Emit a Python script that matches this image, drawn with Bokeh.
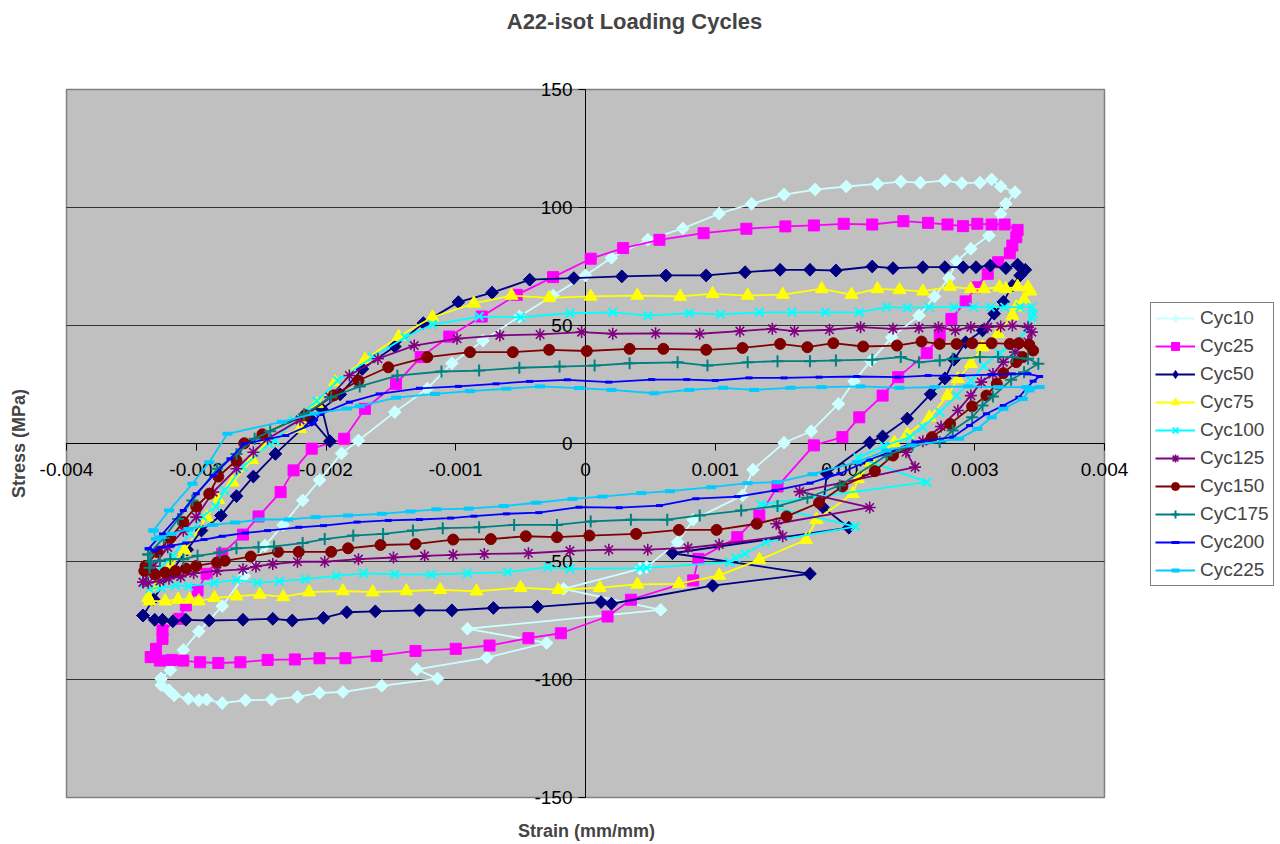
import numpy as np
from bokeh.plotting import figure
from bokeh.models import (LinearAxis, FixedTicker, Legend, LegendItem, Label,
                          Range1d, CustomJSTickFormatter)
from bokeh.embed import file_html
from bokeh.resources import INLINE

FONT = "Liberation Sans"

# ---------------- axis ticks ----------------
x_ticks = [-0.004, -0.003, -0.002, -0.001, 0.0, 0.001, 0.002, 0.003, 0.004]
x_tick_labels = ["-0.004", "-0.003", "-0.002", "-0.001", "0", "0.001", "0.002", "0.003", "0.004"]
y_ticks = [-150, -100, -50, 0, 50, 100, 150]
y_tick_labels = ["-150", "-100", "-50", "0", "50", "100", "150"]

# ---------------- series (strain in 1e-3 mm/mm, stress in MPa) ----------------
series_names = ["Cyc10", "Cyc25", "Cyc50", "Cyc75", "Cyc100",
                "Cyc125", "Cyc150", "CyC175", "Cyc200", "Cyc225"]
series_colors = ["#CCFFFF", "#FF00FF", "#000080", "#FFFF00", "#00FFFF",
                 "#800080", "#800000", "#008080", "#0000FF", "#00CCFF"]

cyc10 = [(-3.27, -99.6), (-3.20, -96.0), (-3.10, -87.5), (-2.98, -79.6), (-2.80, -68.9), (-2.63, -56.1),
         (-2.47, -43.3), (-2.33, -34.5), (-2.18, -24.1), (-2.05, -15.5), (-1.88, -4.2), (-1.75, 1.3),
         (-1.47, 13.3), (-1.22, 23.2), (-1.03, 34.0), (-0.79, 43.6), (-0.51, 53.8), (-0.25, 62.7),
         (0.00, 71.2), (0.20, 78.7), (0.48, 86.4), (0.75, 91.1), (1.03, 97.4), (1.28, 101.6),
         (1.53, 105.5), (1.77, 107.6), (2.01, 108.9), (2.25, 110.0), (2.43, 111.0), (2.58, 110.5),
         (2.77, 111.4), (2.90, 110.3), (3.04, 110.5), (3.13, 111.9), (3.20, 108.9), (3.31, 106.5),
         (3.24, 101.6), (3.20, 97.3), (3.11, 88.1), (2.97, 82.5), (2.86, 77.2), (2.80, 70.0),
         (2.69, 62.3), (2.57, 54.2), (2.36, 45.0), (2.20, 35.0), (2.07, 26.4), (1.95, 16.8),
         (1.74, 5.2), (1.53, 0.3), (1.29, -11.1), (1.21, -22.0), (0.83, -32.3), (0.71, -41.8),
         (0.47, -52.4), (0.42, -53.1), (-0.17, -61.6), (0.58, -70.5), (-0.91, -78.5), (-0.30, -84.5),
         (-0.76, -90.7), (-1.30, -95.7), (-1.14, -99.6), (-1.57, -102.7), (-1.87, -105.3), (-2.05, -105.7),
         (-2.22, -107.4), (-2.42, -108.5), (-2.62, -108.8), (-2.80, -110.0), (-2.92, -108.5), (-2.98, -108.8),
         (-3.06, -108.1), (-3.17, -106.7), (-3.21, -104.6), (-3.27, -102.4), (-3.27, -99.6)]

cyc25 = [(-3.35, -90.5), (-3.31, -87.0), (-3.26, -82.8), (-3.26, -79.2), (-3.13, -74.3), (-3.08, -68.6),
         (-2.99, -62.3), (-2.92, -55.2), (-2.80, -46.7), (-2.64, -38.6), (-2.52, -30.9), (-2.35, -20.6),
         (-2.25, -11.4), (-2.11, -2.2), (-1.86, 2.0), (-1.70, 14.7), (-1.46, 25.3), (-1.27, 36.6),
         (-1.05, 45.3), (-0.80, 53.8), (-0.53, 63.0), (-0.25, 70.5), (0.04, 78.3), (0.29, 82.8),
         (0.57, 86.3), (0.91, 89.1), (1.24, 91.0), (1.54, 92.0), (1.76, 92.4), (1.99, 93.1),
         (2.21, 92.8), (2.45, 94.2), (2.64, 93.5), (2.79, 92.8), (2.91, 92.1), (3.02, 93.1),
         (3.13, 92.8), (3.23, 92.8), (3.33, 90.5), (3.32, 87.4), (3.29, 83.9), (3.27, 80.6),
         (3.18, 76.8), (3.10, 71.9), (3.01, 66.2), (2.93, 60.2), (2.82, 52.8), (2.73, 45.8),
         (2.63, 38.3), (2.41, 28.1), (2.29, 20.3), (2.11, 11.1), (1.98, 2.7), (1.76, -0.8),
         (1.48, -18.2), (1.34, -30.5), (1.17, -39.7), (0.87, -48.9), (0.83, -58.0), (0.35, -66.2),
         (0.17, -73.3), (-0.19, -80.4), (-0.44, -82.5), (-0.74, -85.6), (-1.00, -87.0), (-1.31, -87.9),
         (-1.61, -90.0), (-1.85, -91.0), (-2.05, -91.0), (-2.24, -91.5), (-2.45, -91.7), (-2.66, -92.7),
         (-2.83, -93.0), (-2.97, -92.7), (-3.10, -92.0), (-3.19, -91.7), (-3.28, -92.0), (-3.35, -90.5)]

cyc50 = [(-3.41, -72.9), (-3.33, -66.0), (-3.20, -55.0), (-3.07, -45.0), (-2.96, -36.9), (-2.81, -30.5),
         (-2.69, -22.3), (-2.56, -14.0), (-2.39, -4.4), (-2.11, 10.0), (-1.97, 1.0), (-2.03, 14.5),
         (-1.89, 20.8), (-1.72, 31.6), (-1.47, 41.1), (-1.25, 51.0), (-0.98, 59.9), (-0.72, 63.9),
         (-0.43, 69.4), (-0.09, 70.1), (0.28, 70.8), (0.62, 71.2), (0.93, 71.2), (1.23, 72.6),
         (1.50, 73.6), (1.73, 73.6), (1.93, 73.3), (2.21, 75.0), (2.37, 74.3), (2.60, 74.7),
         (2.77, 74.7), (2.91, 74.7), (3.01, 74.7), (3.12, 75.4), (3.24, 74.3), (3.33, 75.8),
         (3.39, 73.6), (3.35, 71.2), (3.29, 66.9), (3.22, 60.0), (3.15, 55.0), (3.06, 47.9),
         (2.93, 42.9), (2.84, 35.5), (2.77, 27.6), (2.66, 20.9), (2.48, 10.5), (2.29, 3.0),
         (2.19, 0.4), (1.86, -12.8), (1.83, -27.0), (2.03, -35.7), (0.67, -46.5), (1.73, -55.2),
         (0.98, -60.2), (0.20, -67.9), (0.12, -67.2), (-0.37, -69.2), (-0.71, -69.7), (-1.03, -70.7),
         (-1.28, -70.7), (-1.62, -71.1), (-1.84, -71.5), (-2.02, -73.9), (-2.26, -75.0), (-2.41, -74.3),
         (-2.64, -74.7), (-2.90, -75.0), (-3.08, -74.7), (-3.18, -75.3), (-3.26, -74.7), (-3.32, -74.7),
         (-3.41, -72.9)]

cyc75 = [(-3.37, -65.4), (-3.30, -60.0), (-3.20, -52.0), (-3.09, -45.3), (-2.92, -31.2), (-2.83, -23.9),
         (-2.72, -16.4), (-2.57, -6.9), (-2.46, 0.6), (-2.20, 6.2), (-2.07, 16.8), (-1.93, 26.0),
         (-1.70, 35.5), (-1.44, 45.3), (-1.18, 53.5), (-0.86, 59.4), (-0.57, 62.7), (-0.28, 61.7),
         (0.04, 62.3), (0.40, 62.7), (0.73, 62.3), (0.98, 63.4), (1.25, 62.7), (1.52, 63.1),
         (1.82, 65.5), (2.05, 63.1), (2.25, 65.5), (2.42, 65.1), (2.60, 64.5), (2.81, 66.5),
         (2.97, 65.5), (3.07, 65.5), (3.19, 66.2), (3.24, 65.5), (3.33, 66.5), (3.41, 66.2),
         (3.43, 64.5), (3.38, 61.0), (3.32, 57.8), (3.29, 54.2), (3.18, 46.5), (3.06, 40.8),
         (2.97, 33.8), (2.87, 27.4), (2.79, 20.3), (2.65, 11.1), (2.48, 3.8), (2.38, 0.3),
         (2.20, -8.0), (2.10, -15.0), (2.06, -21.3), (1.78, -32.3), (1.70, -40.8), (1.34, -49.3),
         (1.03, -55.9), (0.72, -59.5), (0.40, -59.7), (0.11, -61.1), (-0.21, -62.0), (-0.50, -61.1),
         (-0.84, -62.6), (-1.12, -62.0), (-1.38, -62.5), (-1.64, -63.0), (-1.87, -62.5), (-2.13, -63.0),
         (-2.33, -65.0), (-2.51, -64.0), (-2.69, -64.7), (-2.86, -65.4), (-2.98, -66.8), (-3.05, -66.1),
         (-3.14, -66.1), (-3.24, -66.8), (-3.36, -66.8), (-3.37, -65.4)]

cyc100 = [(-3.40, -59.0), (-3.30, -54.0), (-3.18, -47.5), (-3.05, -38.0), (-2.95, -31.0), (-2.85, -26.7),
          (-2.78, -19.9), (-2.64, -10.0), (-2.44, -0.1), (-2.39, 1.1), (-2.25, 9.9), (-2.07, 18.0),
          (-1.91, 26.7), (-1.64, 36.6), (-1.39, 45.0), (-1.18, 50.4), (-0.82, 53.8), (-0.50, 53.5),
          (-0.12, 55.2), (0.21, 55.6), (0.48, 54.2), (0.80, 55.2), (1.04, 54.7), (1.34, 55.6),
          (1.59, 55.6), (1.85, 55.6), (2.11, 55.6), (2.32, 57.8), (2.48, 57.5), (2.65, 57.8),
          (2.84, 57.8), (2.99, 57.8), (3.12, 57.8), (3.23, 57.8), (3.35, 57.8), (3.44, 57.8),
          (3.45, 55.0), (3.44, 53.5), (3.40, 48.0), (3.30, 42.0), (3.19, 38.3), (3.07, 33.0),
          (2.97, 26.7), (2.86, 20.3), (2.73, 13.3), (2.60, 7.0), (2.50, 2.7), (2.30, -1.0),
          (2.10, -6.0), (2.63, -16.4), (1.35, -25.8), (2.08, -35.2), (1.39, -41.8), (1.23, -46.7),
          (1.16, -48.4), (1.11, -50.3), (0.47, -52.7), (0.42, -52.8), (-0.12, -53.1), (-0.29, -52.4),
          (-0.60, -54.5), (-0.91, -55.0), (-1.19, -55.5), (-1.47, -55.4), (-1.71, -55.0), (-1.92, -56.1),
          (-2.16, -57.5), (-2.36, -58.3), (-2.53, -59.0), (-2.69, -57.8), (-2.86, -59.0), (-3.06, -60.4),
          (-3.16, -60.1), (-3.27, -61.1), (-3.36, -61.6), (-3.40, -59.0)]

cyc125 = [(-3.41, -58.8), (-3.33, -52.0), (-3.22, -44.0), (-3.10, -37.0), (-3.00, -31.2), (-2.87, -20.6),
          (-2.69, -10.7), (-2.56, -3.7), (-2.45, 2.0), (-2.20, 10.0), (-1.97, 19.7), (-1.82, 28.8),
          (-1.60, 35.9), (-1.32, 41.5), (-0.99, 44.4), (-0.66, 45.8), (-0.35, 46.2), (-0.03, 47.2),
          (0.21, 46.5), (0.54, 46.7), (0.88, 46.5), (1.19, 47.6), (1.44, 48.6), (1.61, 47.6),
          (1.88, 48.2), (2.12, 49.3), (2.37, 48.6), (2.57, 49.0), (2.72, 49.3), (2.85, 47.9),
          (2.97, 49.3), (3.10, 49.3), (3.20, 49.6), (3.29, 50.0), (3.41, 49.3), (3.44, 47.2),
          (3.41, 43.0), (3.31, 38.7), (3.22, 34.5), (3.14, 29.5), (3.05, 26.0), (2.97, 20.3),
          (2.87, 14.0), (2.74, 7.2), (2.60, 1.0), (2.47, -3.7), (2.54, -10.0), (1.65, -20.4),
          (2.19, -27.1), (1.47, -34.0), (1.52, -39.3), (1.03, -42.8), (0.79, -44.2), (0.48, -45.0),
          (0.18, -45.0), (-0.12, -45.5), (-0.44, -46.5), (-0.78, -46.8), (-1.02, -47.2), (-1.24, -47.6),
          (-1.48, -48.3), (-1.75, -49.0), (-2.01, -50.1), (-2.22, -50.1), (-2.41, -51.1), (-2.54, -52.1),
          (-2.64, -53.3), (-2.84, -54.0), (-3.02, -55.0), (-3.12, -56.4), (-3.21, -57.3), (-3.28, -58.3),
          (-3.37, -59.0), (-3.41, -58.8)]

cyc150 = [(-3.39, -51.9), (-3.30, -46.0), (-3.20, -40.0), (-3.10, -33.3), (-3.00, -26.7), (-2.90, -21.3),
          (-2.83, -14.0), (-2.69, -7.2), (-2.63, 0.1), (-2.49, 3.9), (-2.16, 12.0), (-1.94, 20.4),
          (-1.75, 26.7), (-1.52, 32.3), (-1.22, 36.6), (-0.89, 38.7), (-0.56, 38.7), (-0.28, 39.7),
          (0.01, 39.2), (0.34, 40.1), (0.60, 40.1), (0.93, 39.7), (1.21, 40.5), (1.50, 42.2),
          (1.71, 40.8), (1.91, 42.5), (2.14, 41.1), (2.40, 41.5), (2.59, 43.2), (2.73, 42.2),
          (2.86, 42.2), (2.98, 42.5), (3.13, 42.5), (3.27, 42.2), (3.34, 42.5), (3.42, 41.9),
          (3.45, 39.4), (3.37, 36.6), (3.32, 34.5), (3.22, 29.8), (3.17, 25.3), (3.09, 20.3),
          (2.98, 15.7), (2.81, 8.3), (2.67, 2.7), (2.37, -5.1), (2.23, -11.7), (1.98, -18.2),
          (1.80, -25.1), (1.55, -30.9), (1.32, -34.0), (1.01, -36.6), (0.72, -36.6), (0.39, -38.3),
          (0.03, -39.0), (-0.22, -39.7), (-0.46, -39.3), (-0.73, -40.5), (-1.02, -40.7), (-1.31, -42.6),
          (-1.58, -43.0), (-1.83, -44.4), (-1.96, -45.9), (-2.21, -45.9), (-2.37, -45.9), (-2.58, -47.9),
          (-2.78, -49.7), (-2.84, -50.4), (-3.00, -51.9), (-3.08, -53.0), (-3.16, -54.0), (-3.24, -54.7),
          (-3.32, -55.4), (-3.40, -54.0), (-3.39, -51.9)]

cyc175 = [(-3.37, -47.0), (-3.25, -40.0), (-3.14, -32.0), (-3.03, -24.2), (-2.84, -10.7), (-2.69, -4.4),
          (-2.55, 2.0), (-2.43, 5.2), (-2.17, 12.4), (-1.96, 19.6), (-1.74, 24.2), (-1.45, 28.8),
          (-1.11, 30.5), (-0.82, 30.9), (-0.51, 32.1), (-0.20, 32.6), (0.07, 33.0), (0.34, 34.0),
          (0.71, 34.4), (0.94, 33.0), (1.25, 34.4), (1.48, 34.9), (1.73, 34.9), (1.93, 35.2),
          (2.21, 35.5), (2.43, 36.6), (2.57, 34.4), (2.73, 35.2), (2.83, 35.9), (3.04, 36.6),
          (3.18, 36.6), (3.29, 36.6), (3.41, 35.9), (3.49, 33.8), (3.38, 30.2), (3.28, 27.0),
          (3.14, 19.9), (3.06, 16.1), (2.98, 11.1), (2.83, 5.5), (2.73, 0.6), (2.52, -0.8),
          (2.32, -5.1), (1.96, -17.8), (1.71, -23.0), (1.48, -26.5), (1.20, -28.4), (0.88, -30.5),
          (0.63, -32.3), (0.35, -32.3), (0.04, -33.0), (-0.22, -34.5), (-0.55, -34.5), (-0.82, -35.5),
          (-1.10, -35.9), (-1.33, -36.9), (-1.56, -38.3), (-1.79, -39.0), (-2.01, -40.5), (-2.18, -42.2),
          (-2.40, -43.6), (-2.52, -44.0), (-2.69, -44.4), (-2.82, -46.2), (-2.99, -47.6), (-3.10, -49.0),
          (-3.20, -49.0), (-3.28, -49.7), (-3.35, -50.1), (-3.36, -52.6), (-3.37, -47.0)]

cyc200 = [(-3.37, -44.6), (-3.26, -38.3), (-3.10, -28.4), (-3.00, -21.3), (-2.87, -13.6), (-2.74, -6.5),
          (-2.63, -0.1), (-2.31, 3.4), (-2.10, 8.3), (-2.05, 12.3), (-1.82, 17.5), (-1.59, 21.0),
          (-1.28, 23.4), (-0.98, 24.2), (-0.69, 25.3), (-0.43, 26.3), (-0.14, 27.0), (0.18, 26.0),
          (0.51, 27.1), (0.78, 27.1), (1.00, 26.7), (1.26, 27.8), (1.53, 27.8), (1.80, 28.1),
          (2.09, 28.4), (2.41, 28.1), (2.64, 28.8), (2.90, 28.8), (3.13, 29.2), (3.29, 29.5),
          (3.41, 29.5), (3.50, 28.4), (3.45, 26.4), (3.34, 19.6), (3.22, 16.1), (3.09, 12.6),
          (2.96, 7.6), (2.83, 2.7), (2.54, 0.6), (2.19, -6.9), (1.96, -12.8), (1.73, -16.8),
          (1.46, -19.9), (1.17, -22.5), (0.85, -23.4), (0.57, -26.3), (0.26, -27.2), (-0.05, -27.0),
          (-0.36, -29.3), (-0.61, -29.8), (-0.86, -30.8), (-1.04, -31.6), (-1.28, -32.2), (-1.52, -32.6),
          (-1.76, -33.3), (-2.02, -34.8), (-2.21, -35.5), (-2.45, -36.9), (-2.62, -37.9), (-2.80, -39.3),
          (-2.94, -40.7), (-3.08, -42.2), (-3.19, -43.3), (-3.27, -44.0), (-3.32, -45.4), (-3.37, -44.6)]

cyc225 = [(-3.33, -36.9), (-3.21, -28.4), (-3.03, -17.1), (-2.90, -7.9), (-2.76, 4.1), (-2.34, 9.2),
          (-2.09, 12.7), (-1.84, 14.8), (-1.74, 15.8), (-1.46, 19.4), (-1.16, 21.0), (-0.89, 22.2),
          (-0.61, 23.2), (-0.35, 24.2), (-0.05, 23.5), (0.20, 22.7), (0.53, 21.3), (0.80, 22.7),
          (1.06, 23.6), (1.30, 22.7), (1.58, 23.6), (1.82, 23.9), (2.12, 24.2), (2.42, 23.6),
          (2.69, 23.9), (2.95, 24.2), (3.18, 23.9), (3.40, 23.9), (3.50, 23.9), (3.42, 22.5),
          (3.37, 18.9), (3.22, 14.7), (3.13, 11.1), (3.02, 6.2), (2.88, 2.0), (2.51, -0.8),
          (2.32, -3.0), (2.09, -7.9), (1.75, -13.0), (1.48, -16.4), (1.25, -16.8), (0.97, -18.5),
          (0.65, -20.2), (0.43, -21.0), (0.13, -22.5), (-0.10, -23.5), (-0.38, -25.1), (-0.63, -26.5),
          (-0.90, -27.6), (-1.15, -27.9), (-1.35, -28.8), (-1.57, -29.8), (-1.83, -30.5), (-2.08, -31.2),
          (-2.29, -32.2), (-2.51, -32.2), (-2.70, -33.5), (-2.87, -34.5), (-3.06, -36.2), (-3.19, -38.3),
          (-3.27, -39.7), (-3.31, -40.5), (-3.33, -36.9)]

all_series = [cyc10, cyc25, cyc50, cyc75, cyc100, cyc125, cyc150, cyc175, cyc200, cyc225]

# marker style per series: (marker, size, line width of marker, angle, legend marker, legend size)
marker_styles = [("square", 9, 1, np.pi / 4, "diamond", 12), ("square", 11, 1, 0, "square", 11),
                 ("square", 9, 1, np.pi / 4, "diamond", 12), ("triangle", 13, 1, 0, "triangle", 13),
                 ("x", 12, 2, 0, "x", 12), ("asterisk", 12, 1.6, 0, "asterisk", 12),
                 ("circle", 11, 1, 0, "circle", 11), ("cross", 12, 2, 0, "cross", 12),
                 ("dash", 7, 3, 0, "dash", 7), ("dash", 10, 4, 0, "dash", 10)]

# ---------------- layout (pixels of the canvas) ----------------
W, H = 1280, 844
AREA_L, AREA_R, AREA_T, AREA_B = 66, 1104, 89, 797   # plot-area box on the canvas
x_lo, x_hi = x_ticks[0], x_ticks[-1]
y_lo, y_hi = y_ticks[0], y_ticks[-1]
xpp = (x_hi - x_lo) / (AREA_R - AREA_L)
ypp = (y_hi - y_lo) / (AREA_B - AREA_T)
x_range = Range1d(x_lo - AREA_L * xpp, x_hi + (W - AREA_R) * xpp)
y_range = Range1d(y_lo - (H - AREA_B) * ypp, y_hi + AREA_T * ypp)

p = figure(width=W, height=H, x_range=x_range, y_range=y_range, title=None,
           x_axis_location=None, y_axis_location=None,
           toolbar_location=None, output_backend="svg",
           min_border=0, min_border_left=0, min_border_right=0, min_border_top=0, min_border_bottom=0,
           background_fill_color="white", border_fill_color="white", outline_line_color=None)
p.xgrid.visible = False
p.ygrid.visible = False

# grey plot area with its border
p.quad(left=x_lo, right=x_hi, bottom=y_lo, top=y_hi, fill_color="#C0C0C0",
       line_color="#808080", line_width=1.5, level="image")
# horizontal gridlines
grid_y = [v for v in y_ticks if v not in (y_lo, y_hi)]
p.segment(x0=[x_lo] * len(grid_y), x1=[x_hi] * len(grid_y), y0=grid_y, y1=grid_y,
          line_color="#333333", line_width=1.2, level="image")

fmt_code = """
for (let i = 0; i < tvals.length; i++) {
  if (Math.abs(tvals[i] - tick) < 1e-9) { return tlabels[i]; }
}
return '';
"""

xaxis = LinearAxis(fixed_location=0, ticker=FixedTicker(ticks=x_ticks), bounds=(x_lo, x_hi),
                   formatter=CustomJSTickFormatter(args=dict(tvals=x_ticks, tlabels=x_tick_labels), code=fmt_code))
yaxis = LinearAxis(fixed_location=0, ticker=FixedTicker(ticks=y_ticks), bounds=(y_lo, y_hi),
                   formatter=CustomJSTickFormatter(args=dict(tvals=y_ticks, tlabels=y_tick_labels), code=fmt_code))
for ax in (xaxis, yaxis):
    ax.level = "underlay"
    ax.axis_line_color = "black"
    ax.axis_line_width = 1
    ax.major_tick_line_color = "black"
    ax.major_tick_in = 0
    ax.major_tick_out = 7
    ax.minor_tick_line_color = None
    ax.major_label_text_font = FONT
    ax.major_label_text_font_size = "19px"
    ax.major_label_text_color = "black"
xaxis.major_label_standoff = 12
yaxis.major_label_standoff = 6
p.add_layout(xaxis, "below")
p.add_layout(yaxis, "left")

items = []
for name, color, data, (mk, ms, mlw, ang, lmk, lms) in zip(series_names, series_colors, all_series, marker_styles):
    xs = np.array([d[0] for d in data]) * 1e-3
    ys = np.array([d[1] for d in data])
    lr = p.line(xs, ys, line_color=color, line_width=1.8)
    if lmk != mk:
        # diamond key for the legend; drawn under the (larger) rotated-square markers
        key = p.scatter(xs, ys, marker=lmk, size=lms, line_color=color, fill_color=color, line_width=mlw)
    sr = p.scatter(xs, ys, marker=mk, size=ms, angle=ang, line_color=color, fill_color=color,
                   line_width=mlw)
    items.append(LegendItem(label=name, renderers=[lr, key if lmk != mk else sr]))

legend = Legend(items=items, location=(1150, H - 586),
                border_line_color="black", border_line_width=1,
                background_fill_color="white", background_fill_alpha=1.0,
                label_text_font=FONT, label_text_font_size="19px",
                glyph_width=40, glyph_height=20, label_height=20,
                spacing=6, padding=4, margin=0, label_standoff=5)
p.add_layout(legend, "center")

title = Label(x=634, y=H - 21, x_units="screen", y_units="screen", text="A22-isot Loading Cycles",
              text_font=FONT, text_font_style="bold", text_font_size="22px",
              text_align="center", text_baseline="middle")
xlab = Label(x=586, y=H - 830, x_units="screen", y_units="screen", text="Strain (mm/mm)",
             text_font=FONT, text_font_style="bold", text_font_size="18px",
             text_align="center", text_baseline="middle")
ylab = Label(x=18, y=H - 443, x_units="screen", y_units="screen", text="Stress (MPa)", angle=np.pi / 2,
             text_font=FONT, text_font_style="bold", text_font_size="18px",
             text_align="center", text_baseline="middle")
for lab in (title, xlab, ylab):
    p.add_layout(lab)

open("out.html", "w").write(file_html(p, INLINE))
